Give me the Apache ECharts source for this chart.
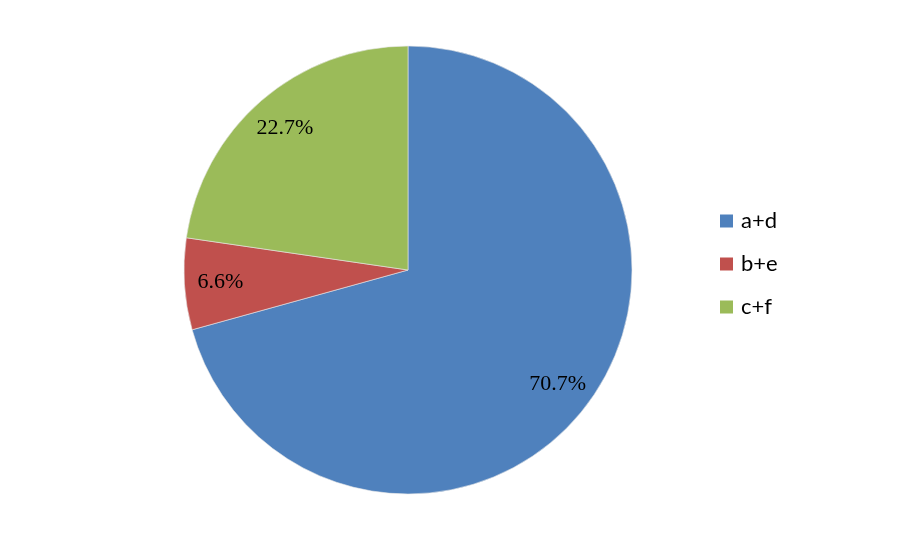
<!DOCTYPE html>
<html><head><meta charset="utf-8">
<script src="https://cdn.jsdelivr.net/npm/echarts@6/dist/echarts.min.js"></script>
<style>html,body{margin:0;padding:0;background:#fff}#c{width:912px;height:539px}</style>
</head><body><div id="c"></div>
<script>
const categories = ['a+d', 'b+e', 'c+f'];
const values = [70.7, 6.6, 22.7];
const colors = ['#4F81BD', '#C0504D', '#9BBB59'];

const data = categories.map((n, i) => ({ name: n, value: values[i] }));
const chart = echarts.init(document.getElementById('c'));
chart.setOption({
  animation: false,
  color: colors,
  legend: {
    orient: 'vertical', left: 720, top: 210, itemGap: 21, padding: 0,
    itemWidth: 13, itemHeight: 13, icon: 'rect',
    itemStyle: { borderWidth: 0 },
    textStyle: { fontFamily: 'Lato', fontSize: 22, color: '#000', padding: [0, 0, 0, 3] },
    data: categories
  },
  series: [
    {
      type: 'pie', center: [408, 270], radius: [0, 224], startAngle: 90, clockwise: true,
      data: data, label: { show: false }, labelLine: { show: false },
      itemStyle: { borderColor: '#e8e8e8', borderWidth: 0.6 }, emphasis: { disabled: true }
    },
    {
      type: 'pie', center: [408, 270], radius: [146, 224], startAngle: 90, clockwise: true,
      data: data, silent: true, legendHoverLink: false,
      itemStyle: { color: 'rgba(0,0,0,0)', borderWidth: 0 },
      label: { show: true, position: 'inside', formatter: p => p.value.toFixed(1) + '%',
        fontFamily: 'Liberation Serif', fontSize: 22, color: '#000' },
      labelLine: { show: false }, emphasis: { disabled: true }
    }
  ]
});
</script></body></html>
